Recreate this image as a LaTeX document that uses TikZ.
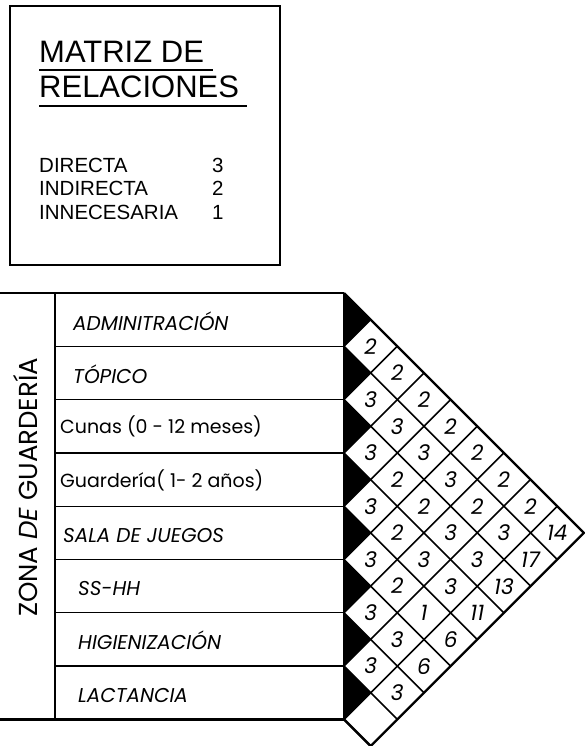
\documentclass[tikz,border=0pt]{standalone}
\usepackage{fontspec}
\setmainfont{Poppins}
\newfontfamily\legendfont{Liberation Sans}
\begin{document}
\begin{tikzpicture}[x=1pt,y=-1pt,
  frame/.style={line width=1.6pt},
  thickline/.style={line width=2.6pt},
  rowline/.style={line width=1.3pt},
  gridline/.style={line width=1.6pt},
  outerline/.style={line width=2.4pt},
  rowlabel/.style={anchor=base west, inner sep=0pt, font=\fontsize{20}{24}\selectfont\itshape},
  rowlabelup/.style={anchor=base west, inner sep=0pt, font=\fontsize{19}{23}\selectfont\upshape},
  cellnum/.style={inner sep=0pt, font=\fontsize{21.5}{25}\selectfont\itshape},
  legtitle/.style={anchor=base west, inner sep=0pt, font=\legendfont\fontsize{31}{36}\selectfont},
  legentry/.style={anchor=base west, inner sep=0pt, font=\legendfont\fontsize{20.5}{24}\selectfont},
]
\useasboundingbox (0,0) rectangle (584,746);

% legend
\draw[frame] (10,6) rectangle (280,265);
\node[legtitle] (t1) at (39,63) {MATRIZ DE};
\node[legtitle] (t2) at (39,98) {RELACIONES};
\draw[line width=2pt] (39,70) -- (213,70);
\draw[line width=2pt] (39,106) -- (247,106);
\node[legentry] (l1) at (39,172) {DIRECTA};
\node[legentry] (l2) at (39,195) {INDIRECTA};
\node[legentry] (l3) at (39,219) {INNECESARIA};
\node[legentry] (v1) at (212,172) {3};
\node[legentry] (v2) at (212,195) {2};
\node[legentry] (v3) at (212,219) {1};

% table
\draw[thickline] (0,293) -- (344,293);
\draw[thickline] (0,719.4) -- (344,719.4);
\draw[thickline] (55,293) -- (55,719.4);
\foreach \r in {1,...,7} \draw[rowline] (55,{293+2*\r*26.65}) -- (344,{293+2*\r*26.65});

\node[rotate=90, anchor=base west, inner sep=0pt, font=\fontsize{26}{30}\selectfont] (zona) at (37,617) {ZONA \textit{DE} GUARDERÍA};

\node[rowlabel] (r1) at (73,330) {ADMINITRACIÓN};
\node[rowlabel] (r2) at (73,383) {TÓPICO};
\node[rowlabelup] (r3) at (60,433) {Cunas (0 - 12 meses)};
\node[rowlabelup] (r4) at (60,487) {Guardería( 1- 2 años)};
\node[rowlabel] (r5) at (63,542) {SALA DE JUEGOS};
\node[rowlabel] (r6) at (78,595) {SS-HH};
\node[rowlabel] (r7) at (78,649) {HIGIENIZACIÓN};
\node[rowlabel] (r8) at (78,702) {LACTANCIA};

% relation grid
\begin{scope}[shift={(344pt,-293pt)}, x=26.65pt, y=-26.65pt]
  \foreach \m in {1,...,8} \fill (0,{2*\m-2}) -- (1,{2*\m-1}) -- (0,{2*\m}) -- cycle;
  \foreach \m in {1,...,8} \draw[gridline] (0,{2*\m}) -- ({9-\m},{9+\m});
  \foreach \m in {1,...,8} \draw[gridline] (0,{2*\m}) -- (\m,\m);
  \draw[outerline] (0,0) -- (9,9) -- (1,17) -- (0,16);
  \draw[line width=1.5pt] (0,0) -- (0,16);
  \foreach \d/\k/\v in {1/2/2,2/3/2,1/4/3,3/4/2,2/5/3,4/5/2,1/6/3,3/6/3,5/6/2,
    2/7/2,4/7/3,6/7/2,1/8/3,3/8/2,5/8/2,7/8/2,2/9/2,4/9/3,6/9/3,
    1/10/3,3/10/3,5/10/3,2/11/2,4/11/3,1/12/3,3/12/1,2/13/3,1/14/3,
    8/9/14,7/10/17,6/11/13,5/12/11,4/13/6,3/14/6,2/15/3}
    \node[cellnum] (c\d-\k) at (\d,\k) {\v};
\end{scope}
\end{tikzpicture}
\end{document}
